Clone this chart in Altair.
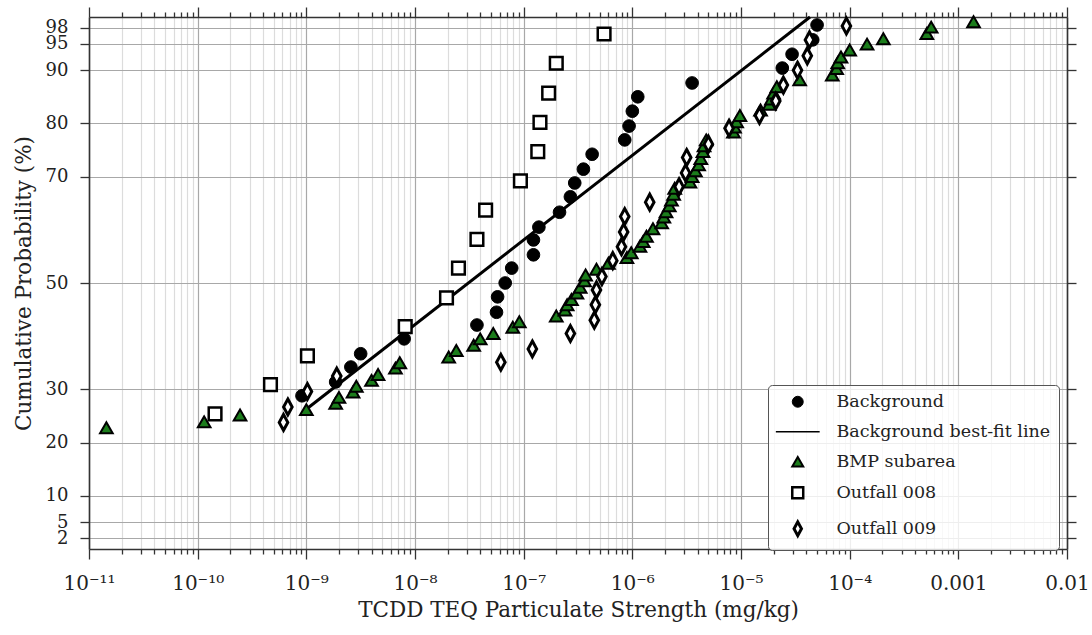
import altair as alt
import pandas as pd

FONT = "DejaVu Serif"

SERIES = ["Background", "Background best-fit line", "BMP subarea", "Outfall 008", "Outfall 009"]

# log10 of TCDD TEQ particulate strength (mg/kg) and cumulative probability (%)
bg_log = [-9.04, -8.73, -8.59, -8.50, -8.10, -7.43, -7.25, -7.24, -7.17, -7.11, -6.91, -6.91, -6.86,
          -6.67, -6.57, -6.53, -6.45, -6.37, -6.07, -6.03, -6.00, -5.95, -5.45, -4.62, -4.53, -4.34, -4.30]
bg_pct = [28.8, 31.4, 34.2, 36.7, 39.5, 42.1, 44.5, 47.4, 50.0, 52.8, 55.3, 58.1, 60.5,
          63.3, 66.2, 68.8, 71.4, 74.2, 76.9, 79.5, 82.3, 85.0, 87.6, 90.4, 93.0, 95.7, 98.5]

fit_log = [-8.98, -4.365]
fit_pct = [26.6, 100.0]

bmp_log = [-10.84, -9.94, -9.61, -9.00, -8.73, -8.70, -8.57, -8.54, -8.40, -8.34,
           -8.18, -8.14, -7.69, -7.62, -7.46, -7.40, -7.28, -7.10, -7.04, -6.70,
           -6.62, -6.60, -6.56, -6.51, -6.48, -6.44, -6.43, -6.33, -6.22, -6.05,
           -6.01, -5.93, -5.90, -5.87, -5.81, -5.73, -5.71, -5.69, -5.66, -5.64,
           -5.62, -5.61, -5.47, -5.45, -5.42, -5.39, -5.37, -5.35, -5.34, -5.32,
           -5.07, -5.06, -5.04, -5.01, -4.82, -4.74, -4.72, -4.70, -4.67, -4.46,
           -4.16, -4.12, -4.11, -4.08, -4.00, -3.84, -3.69, -3.29, -3.25, -2.86]
bmp_pct = [22.8, 23.9, 25.2, 26.2, 27.4, 28.5, 29.5, 30.6, 31.7, 32.8,
           34.0, 35.0, 36.1, 37.3, 38.3, 39.5, 40.5, 41.7, 42.7, 43.8,
           44.9, 45.9, 46.9, 48.1, 49.2, 50.4, 51.5, 52.6, 53.7, 54.8,
           55.7, 56.9, 57.8, 58.8, 60.2, 61.3, 62.4, 63.4, 64.5, 65.6,
           66.7, 67.8, 69.0, 70.0, 71.1, 72.2, 73.4, 74.7, 75.8, 76.9,
           78.4, 79.3, 80.3, 81.5, 82.5, 83.6, 84.6, 85.7, 86.9, 88.2,
           89.1, 90.3, 91.4, 92.5, 93.8, 94.9, 95.9, 96.9, 98.1, 99.1]

o8_log = [-9.84, -9.33, -8.99, -8.09, -7.71, -7.60, -7.43, -7.35, -7.03, -6.87, -6.85, -6.77, -6.70, -6.26]
o8_pct = [25.4, 30.9, 36.3, 41.8, 47.2, 52.8, 58.2, 63.7, 69.2, 74.7, 80.2, 85.7, 91.3, 96.8]

o9_log = [-9.21, -9.17, -8.99, -8.72, -7.21, -6.92, -6.57, -6.35, -6.34, -6.33, -6.28, -6.18, -6.10, -6.08,
          -6.07, -5.84, -5.57, -5.51, -5.50, -5.30, -5.11, -4.83, -4.68, -4.61, -4.48, -4.39, -4.37, -4.03]
o9_pct = [23.8, 26.7, 29.6, 32.5, 35.1, 37.6, 40.5, 43.0, 45.9, 48.7, 51.2, 54.2, 56.8, 59.6,
          62.5, 65.2, 68.1, 70.7, 73.6, 76.1, 79.1, 81.5, 84.2, 87.2, 90.0, 92.7, 95.7, 98.3]

y_ticks = [2, 5, 10, 20, 30, 50, 70, 80, 90, 95, 98]
x_exponents = list(range(-11, -1))


def frame(name, logs, pcts):
    return pd.DataFrame({"series": name, "conc": [10.0 ** v for v in logs], "pct": pcts})


df_bg = frame("Background", bg_log, bg_pct)
df_fit = frame("Background best-fit line", fit_log, fit_pct)
df_rest = pd.concat([frame("BMP subarea", bmp_log, bmp_pct),
                     frame("Outfall 008", o8_log, o8_pct),
                     frame("Outfall 009", o9_log, o9_pct)], ignore_index=True)

# tick values: majors at every decade, minors at 2..9
x_ticks = []
for e in x_exponents[:-1]:
    for m in range(1, 10):
        x_ticks.append(float(f"{m}e{e}"))
x_ticks.append(1e-2)

SUP = str.maketrans("-0123456789", "⁻⁰¹²³⁴⁵⁶⁷⁸⁹")


def xlab(e):
    if e == -3:
        return "0.001"
    if e == -2:
        return "0.01"
    return "10" + str(e).translate(SUP)


EXP = "round(log(datum.value)/LN10)"
MAJOR = f"abs(log(datum.value)/LN10 - {EXP}) < 0.001"
lab = "''"
for e in reversed(x_exponents):
    lab = f"{EXP} == {e} ? '{xlab(e)}' : " + lab
LABEL_EXPR = f"({MAJOR}) ? ({lab}) : ''"

xscale = alt.Scale(type="log", domain=[1e-11, 1e-2], nice=False)
yscale = alt.Scale(domain=[0, 100], nice=False, zero=False)

TXT = "#222222"
AX = "#333333"

x_axis = alt.Axis(
    values=x_ticks, labelExpr=LABEL_EXPR, grid=True,
    gridColor={"condition": {"test": MAJOR, "value": "#a8a8a8"}, "value": "#dcdcdc"},
    gridWidth=1.2,
    tickSize={"condition": {"test": MAJOR, "value": 10}, "value": 5},
    tickColor=AX, tickWidth=1.3, domainColor=AX, domainWidth=1.6,
    labelFont=FONT, labelFontSize=20, labelColor=TXT, labelPadding=14,
    labelFlush=False, labelOverlap=False,
    title="TCDD TEQ Particulate Strength (mg/kg)", titleFont=FONT, titleFontSize=21.5,
    titleFontWeight="normal", titleColor=TXT, titlePadding=6,
)
y_axis = alt.Axis(
    values=y_ticks, grid=True, gridColor="#a8a8a8", gridWidth=1.2,
    tickSize=9, tickColor=AX, tickWidth=1.3, domainColor=AX, domainWidth=1.6,
    labelFont=FONT, labelFontSize=18, labelColor=TXT, labelPadding=12, labelOverlap=False,
    title="Cumulative Probability (%)", titleFont=FONT, titleFontSize=21.5,
    titleFontWeight="normal", titleColor=TXT, titlePadding=10,
)
x_top = alt.Axis(
    orient="top", values=x_ticks, labels=False, grid=False, title=None,
    tickSize={"condition": {"test": MAJOR, "value": 10}, "value": 5},
    tickColor=AX, tickWidth=1.3, domainColor=AX, domainWidth=1.6,
)
y_right = alt.Axis(
    orient="right", values=y_ticks, labels=False, grid=False, title=None,
    tickSize=9, tickColor=AX, tickWidth=1.3, domainColor=AX, domainWidth=1.6,
)

shape_range = ["circle", "M-4,0L4,0", "triangle-up", "square", "M0,-1.25L0.68,0L0,1.25L-0.68,0Z"]
fill_range = ["#000000", "#ffffff", "#1b7d1b", "#ffffff", "#ffffff"]
stroke_range = ["#000000", "#000000", "#000000", "#000000", "#000000"]
width_range = [1, 3, 1, 1, 1]

legend = alt.Legend(
    title=None, orient="none", legendX=679, legendY=368, direction="vertical",
    labelFont=FONT, labelFontSize=17.5, labelColor=TXT, labelLimit=400,
    symbolOffset=13, labelOffset=30, padding=8, rowPadding=11,
    strokeColor="#555555", fillColor="rgba(255,255,255,0.8)", cornerRadius=4,
    symbolStrokeColor="black", symbolSize=120,
)


def point_enc(xa, ya):
    return dict(
        x=alt.X("conc:Q", scale=xscale, axis=xa),
        y=alt.Y("pct:Q", scale=yscale, axis=ya),
        shape=alt.Shape("series:N", scale=alt.Scale(domain=SERIES, range=shape_range), legend=legend),
        fill=alt.Fill("series:N", scale=alt.Scale(domain=SERIES, range=fill_range), legend=legend),
        stroke=alt.Stroke("series:N", scale=alt.Scale(domain=SERIES, range=stroke_range), legend=legend),
        strokeWidth=alt.StrokeWidth("series:N", scale=alt.Scale(domain=SERIES, range=width_range), legend=legend),
    )


bg_points = alt.Chart(df_bg).mark_point(filled=True, opacity=1, size=160).encode(
    **point_enc(x_axis, y_axis))
fit_line = alt.Chart(df_fit).mark_line(color="black", strokeWidth=3).encode(
    x=alt.X("conc:Q", scale=xscale, axis=x_top),
    y=alt.Y("pct:Q", scale=yscale, axis=y_right),
)
rest_points = alt.Chart(df_rest).mark_point(filled=True, opacity=1, size=160).encode(
    **point_enc(None, None))

chart = (
    alt.layer(bg_points, fit_line, rest_points)
    .resolve_axis(x="independent", y="independent")
    .properties(width=978, height=532, autosize=alt.AutoSizeParams(type="none"),
                padding={"left": 89, "top": 17, "right": 25, "bottom": 86}, background="white")
    .configure_view(stroke=None)
)

chart.save("out.html", embed_options={"renderer": "svg", "actions": False})
